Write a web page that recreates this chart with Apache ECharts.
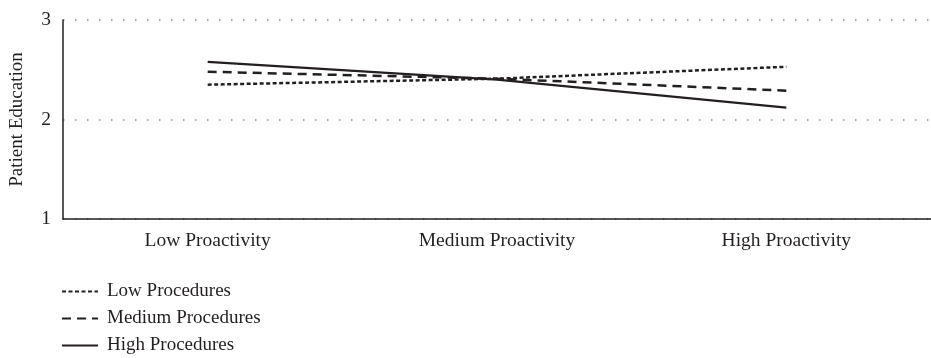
<!DOCTYPE html>
<html>
<head>
<meta charset="utf-8">
<script src="https://cdn.jsdelivr.net/npm/echarts@6/dist/echarts.min.js"></script>
<style>html,body{margin:0;padding:0;background:#fff}#c{width:931px;height:358px}</style>
</head>
<body>
<div id="c"></div>
<script>
const categories = ['Low Proactivity', 'Medium Proactivity', 'High Proactivity'];
const seriesNames = ['Low Procedures', 'Medium Procedures', 'High Procedures'];
const lowProcedures = [2.35, 2.41, 2.53];
const mediumProcedures = [2.48, 2.41, 2.29];
const highProcedures = [2.58, 2.40, 2.12];
const yTicks = [1, 2, 3];

const FONT = 'Liberation Serif';
const INK = '#231f20';
const chart = echarts.init(document.getElementById('c'));
chart.setOption({
  animation: false,
  textStyle: { fontFamily: FONT, color: INK },
  grid: { left: 62, top: 20, width: 880, height: 199 },
  legend: {
    orient: 'vertical', left: 56, top: 277, height: 100, itemGap: 8,
    itemWidth: 36, itemHeight: 21,
    itemStyle: { opacity: 0 },
    textStyle: { fontFamily: FONT, fontSize: 19, color: INK, padding: [0, 0, 0, 4] },
    data: seriesNames
  },
  xAxis: {
    type: 'category', data: categories, boundaryGap: true,
    axisLine: { lineStyle: { color: INK, width: 1.5 } },
    axisTick: { show: false },
    axisLabel: { fontFamily: FONT, fontSize: 19.5, color: INK, margin: 12 }
  },
  yAxis: {
    type: 'value', min: yTicks[0], max: yTicks[yTicks.length - 1], interval: 1,
    name: 'Patient Education', nameLocation: 'middle', nameGap: 36,
    nameTextStyle: { fontFamily: FONT, fontSize: 19, color: INK },
    axisLine: { show: true, lineStyle: { color: INK, width: 1.5 } },
    axisTick: { show: false },
    axisLabel: { fontFamily: FONT, fontSize: 19.5, color: INK, margin: 12 },
    splitLine: { show: true, lineStyle: { color: '#8a8a8a', width: 1.5, type: [1.5, 10.5] } }
  },
  series: [
    { name: seriesNames[0], type: 'line', data: lowProcedures, symbol: 'none',
      lineStyle: { color: INK, width: 2.5, type: [4, 2.5] }, itemStyle: { color: INK } },
    { name: seriesNames[1], type: 'line', data: mediumProcedures, symbol: 'none',
      lineStyle: { color: INK, width: 2.5, type: [9, 6] }, itemStyle: { color: INK } },
    { name: seriesNames[2], type: 'line', data: highProcedures, symbol: 'none',
      lineStyle: { color: INK, width: 2.2, type: 'solid' }, itemStyle: { color: INK } }
  ]
});
</script>
</body>
</html>
